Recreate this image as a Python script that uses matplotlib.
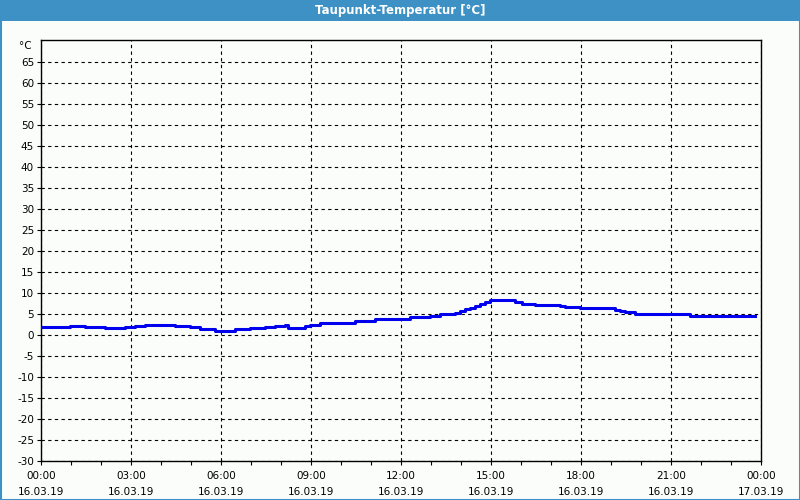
import matplotlib
matplotlib.use("Agg")
import matplotlib.pyplot as plt
from matplotlib.patches import Rectangle
from matplotlib.ticker import MultipleLocator

title = "Taupunkt-Temperatur [°C]"
unit_label = "°C"
hours = [0.00, 0.97, 1.47, 2.13, 2.80, 3.13, 3.47, 4.47, 4.97, 5.30, 5.47, 5.80,
         6.47, 6.63, 6.97, 7.47, 7.80, 8.13, 8.23, 8.80, 8.97, 9.30, 10.47, 11.13,
         11.97, 12.30, 12.97, 13.30, 13.80, 13.97, 14.13, 14.30, 14.47, 14.63, 14.80,
         14.97, 15.30, 15.80, 16.03, 16.47, 17.30, 17.47, 17.97, 19.13, 19.30, 19.47,
         19.80, 20.13, 21.63, 23.80]
dewpoint = [2.0, 2.2, 2.0, 1.7, 2.0, 2.1, 2.45, 2.2, 1.9, 1.5, 1.3, 1.0,
            1.3, 1.5, 1.7, 2.0, 2.2, 2.45, 1.7, 2.2, 2.45, 2.9, 3.3, 3.7,
            3.9, 4.3, 4.6, 4.9, 5.3, 5.8, 6.1, 6.5, 6.9, 7.3, 7.9,
            8.3, 8.2, 7.9, 7.45, 7.1, 6.9, 6.6, 6.3, 6.0, 5.7, 5.4,
            5.1, 4.9, 4.6, 4.6]
x_ticks = [0, 3, 6, 9, 12, 15, 18, 21, 24]
x_labels = ["00:00\n16.03.19", "03:00\n16.03.19", "06:00\n16.03.19", "09:00\n16.03.19",
            "12:00\n16.03.19", "15:00\n16.03.19", "18:00\n16.03.19", "21:00\n16.03.19",
            "00:00\n17.03.19"]
y_ticks = list(range(-30, 70, 5))
y_labels = [str(v) for v in y_ticks]

bg = "#fbfdfb"
fig = plt.figure(figsize=(8, 5), dpi=100, facecolor=bg)

# title bar and border
fig.patches.append(Rectangle((0, 1 - 21/500), 1, 21/500, transform=fig.transFigure,
                             facecolor="#3d91c4", edgecolor="none", zorder=0))
fig.patches.append(Rectangle((0.5/800, 0.5/500), 1 - 1/800, 1 - 1/500, transform=fig.transFigure,
                             facecolor="none", edgecolor="#3d91c4", lw=1.5, zorder=5))
fig.text(0.5, 1 - 10.5/500, title, color="white", fontsize=8.5, fontweight="bold",
         ha="center", va="center")
fig.text(25/800, 1 - 46/500, unit_label, fontsize=7.5, ha="center", va="center")

ax = fig.add_axes([41/800, 1 - 461/500, 720/800, 421/500])
ax.set_facecolor(bg)
ax.plot(hours, dewpoint, drawstyle="steps-post", color="#0000ee", lw=2.2, zorder=3)
ax.set_xlim(0, 24)
ax.set_ylim(-30, 70.2)
ax.set_xticks(x_ticks)
ax.set_xticklabels(x_labels, fontsize=7.5, linespacing=1.8)
ax.xaxis.set_minor_locator(MultipleLocator(1))
ax.set_yticks(y_ticks)
ax.set_yticklabels(y_labels, fontsize=7.5)
ax.tick_params(axis="both", which="both", direction="out", length=3, width=0.8, color="black")
ax.tick_params(axis="x", which="major", pad=4)
ax.tick_params(axis="y", pad=2)

ax.grid(True, which="major", color="black", linestyle=(0, (3, 3)), lw=0.8)
for s in ax.spines.values():
    s.set_color("black")
    s.set_linewidth(1.0)

fig.savefig("out.png", dpi=100, facecolor=bg)
